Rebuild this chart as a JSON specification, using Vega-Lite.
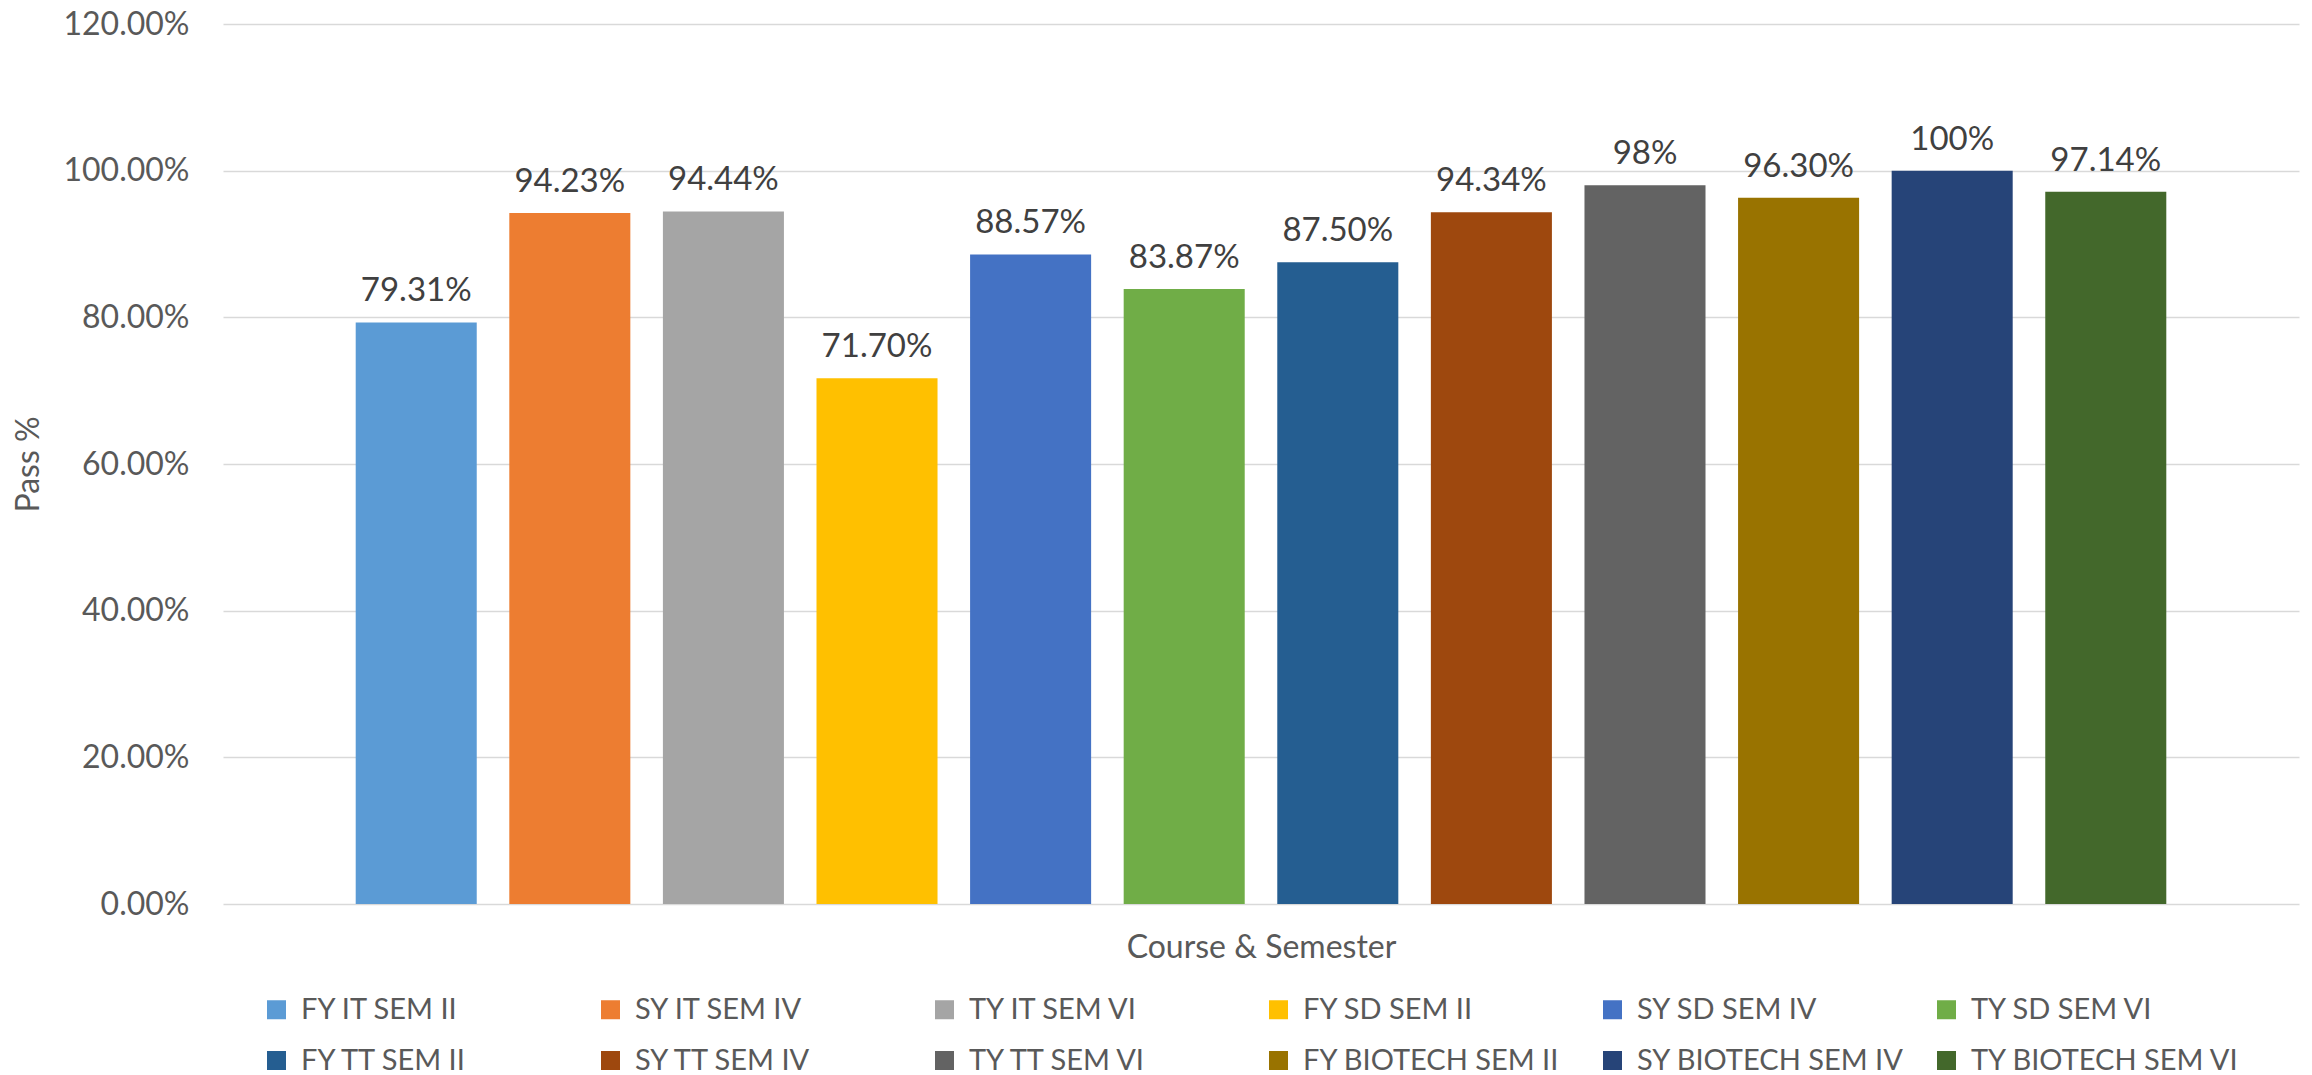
{
  "$schema": "https://vega.github.io/schema/vega-lite/v6.json",
  "width": 2076,
  "height": 880,
  "autosize": {"type": "none"},
  "padding": {"left": 223, "top": 24, "right": 13, "bottom": 171},
  "background": "white",
  "config": {"view": {"stroke": null}, "font": "Lato"},
  "data": {
    "values": [
      {"course": "FY IT SEM II", "pass": 0.7931, "label": "79.31%"},
      {"course": "SY IT SEM IV", "pass": 0.9423, "label": "94.23%"},
      {"course": "TY IT SEM VI", "pass": 0.9444, "label": "94.44%"},
      {"course": "FY SD SEM II", "pass": 0.717, "label": "71.70%"},
      {"course": "SY SD SEM IV", "pass": 0.8857, "label": "88.57%"},
      {"course": "TY SD SEM VI", "pass": 0.8387, "label": "83.87%"},
      {"course": "FY TT SEM II", "pass": 0.875, "label": "87.50%"},
      {"course": "SY TT SEM IV", "pass": 0.9434, "label": "94.34%"},
      {"course": "TY TT SEM VI", "pass": 0.98, "label": "98%"},
      {"course": "FY BIOTECH SEM II", "pass": 0.963, "label": "96.30%"},
      {"course": "SY BIOTECH SEM IV", "pass": 1.0, "label": "100%"},
      {"course": "TY BIOTECH SEM VI", "pass": 0.9714, "label": "97.14%"}
    ]
  },
  "layer": [
    {
      "mark": {"type": "bar"},
      "encoding": {
        "x": {
          "field": "course",
          "type": "nominal",
          "sort": null,
          "scale": {"paddingInner": 0.212, "paddingOuter": 0.864},
          "axis": {
            "labels": false,
            "ticks": false,
            "domain": false,
            "title": "Course & Semester",
            "titleFont": "Lato",
            "titleFontSize": 32,
            "titleFontWeight": "normal",
            "titleColor": "#595959",
            "titleBaseline": "alphabetic",
            "titlePadding": 53
          }
        },
        "y": {
          "field": "pass",
          "type": "quantitative",
          "scale": {"domain": [0, 1.2]},
          "axis": {
            "format": ".2%",
            "values": [0, 0.2, 0.4, 0.6, 0.8, 1.0, 1.2],
            "domain": false,
            "ticks": false,
            "grid": true,
            "gridColor": "#D9D9D9",
            "gridWidth": 1.5,
            "labelFont": "Lato",
            "labelFontSize": 32,
            "labelColor": "#595959",
            "labelPadding": 34,
            "title": "Pass %",
            "titleFont": "Lato",
            "titleFontSize": 32,
            "titleFontWeight": "normal",
            "titleColor": "#595959",
            "titleAngle": -90,
            "titleX": -195,
            "titleY": 440,
            "titleAlign": "center",
            "titleBaseline": "middle"
          }
        },
        "color": {
          "field": "course",
          "type": "nominal",
          "sort": null,
          "scale": {
            "domain": ["FY IT SEM II", "SY IT SEM IV", "TY IT SEM VI", "FY SD SEM II", "SY SD SEM IV", "TY SD SEM VI", "FY TT SEM II", "SY TT SEM IV", "TY TT SEM VI", "FY BIOTECH SEM II", "SY BIOTECH SEM IV", "TY BIOTECH SEM VI"],
            "range": ["#5B9BD5", "#ED7D31", "#A5A5A5", "#FFC000", "#4472C4", "#70AD47", "#255E91", "#9E480E", "#636363", "#997300", "#264478", "#43682B"]
          },
          "legend": {
            "orient": "none",
            "legendX": 39,
            "legendY": 971,
            "direction": "horizontal",
            "columns": 6,
            "title": null,
            "symbolType": "square",
            "symbolSize": 361,
            "symbolStrokeWidth": 0,
            "symbolOpacity": 1,
            "labelFont": "Lato",
            "labelFontSize": 29,
            "labelColor": "#595959",
            "labelOffset": 10,
            "labelLimit": 400,
            "columnPadding": 26,
            "rowPadding": 21,
            "gridAlign": "all",
            "padding": 0
          }
        }
      }
    },
    {
      "mark": {"type": "text", "dy": -21, "baseline": "alphabetic", "font": "Lato", "fontSize": 33, "color": "#404040"},
      "encoding": {
        "x": {"field": "course", "type": "nominal", "sort": null},
        "y": {"field": "pass", "type": "quantitative"},
        "text": {"field": "label"}
      }
    }
  ]
}
